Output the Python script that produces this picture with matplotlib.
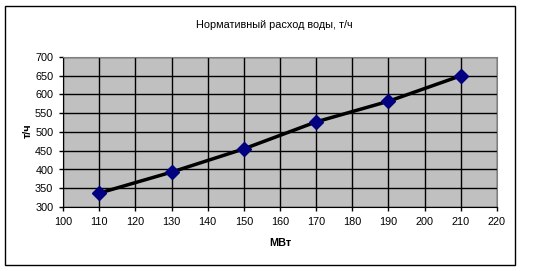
import matplotlib
matplotlib.use("Agg")
import matplotlib.pyplot as plt
from matplotlib.patches import Rectangle

# данные
mvt = [110, 130, 150, 170, 190, 210]
rashod = [337, 393, 455, 527, 582, 650]
x_ticks = list(range(100, 221, 10))
y_ticks = list(range(300, 701, 50))

plt.rcParams['font.family'] = ['Liberation Sans', 'DejaVu Sans']

fig = plt.figure(figsize=(5.43, 2.71), dpi=100)
W, H = 543, 271
ax = fig.add_axes([63 / W, 1 - 207 / H, (497 - 63) / W, (207 - 57) / H])

# рамка вокруг диаграммы
fig.patches.append(Rectangle((5 / W, 1 - 265 / H), (515 - 5) / W, (265 - 6) / H,
                             transform=fig.transFigure, fill=False,
                             edgecolor='black', linewidth=1))

ax.set_facecolor('#c0c0c0')
ax.plot(mvt, rashod, color='black', linewidth=2.5, marker='D',
        markersize=7, markerfacecolor='#000080', markeredgecolor='#000080', zorder=3)

ax.set_xlim(100, 220)
ax.set_ylim(300, 700)
ax.set_xticks(x_ticks)
ax.set_yticks(y_ticks)
ax.grid(True, color='black', linewidth=1)
ax.set_axisbelow(True)
for s in ['top', 'right']:
    ax.spines[s].set_color('#808080')
for s in ['left', 'bottom']:
    ax.spines[s].set_color('black')
ax.tick_params(direction='out', length=3, width=1, labelsize=7.8, pad=4)

fig.text(274 / W, 1 - 25 / H, 'Нормативный расход воды, т/ч', ha='center', va='center', fontsize=7.8)
fig.text(280 / W, 1 - 243 / H, 'МВт', ha='center', va='center', fontsize=7.8, fontweight='bold')
fig.text(28 / W, 1 - 131 / H, 'т/ч', ha='center', va='center', fontsize=7.8,
         fontweight='bold', rotation=90)

fig.savefig('out.png', dpi=100)
